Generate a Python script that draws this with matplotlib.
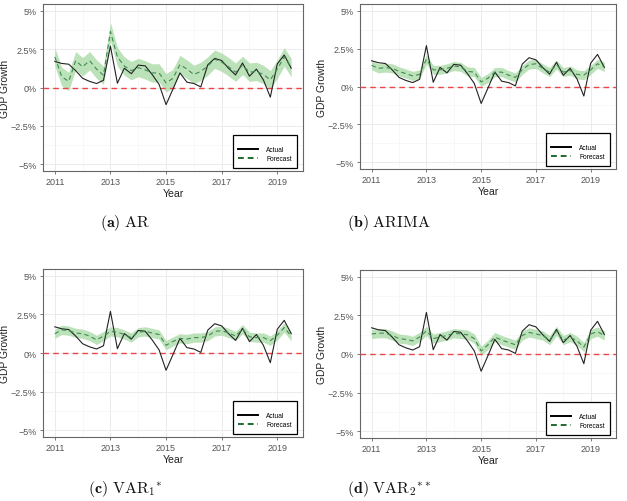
import numpy as np
import matplotlib
matplotlib.use("Agg")
import matplotlib.pyplot as plt
from matplotlib.lines import Line2D
from matplotlib.ticker import FuncFormatter, MultipleLocator

plt.rcParams['font.family'] = ['Liberation Sans', 'DejaVu Sans']
plt.rcParams['mathtext.fontset'] = 'cm'

# Quarterly observations 2011Q1 .. 2019Q3
quarters = [2011 + 0.25 * i for i in range(35)]

actual = [1.70, 1.57, 1.52, 1.10, 0.60, 0.40, 0.26, 0.47, 2.70, 0.28, 1.26, 0.90,
          1.46, 1.41, 0.85, 0.20, -1.12, -0.10, 0.95, 0.35, 0.26, 0.04, 1.48, 1.90,
          1.76, 1.25, 0.82, 1.60, 0.74, 1.20, 0.50, -0.63, 1.54, 2.12, 1.26]

forecast_ar = [2.00, 0.70, 0.40, 1.75, 1.35, 1.75, 1.20, 0.80, 3.65, 2.00, 1.40, 1.10,
               1.30, 1.15, 0.95, 0.95, 0.30, 0.60, 1.50, 1.20, 0.85, 1.05, 1.40, 1.85,
               1.65, 1.35, 1.00, 1.45, 1.00, 1.05, 0.85, 0.50, 1.20, 2.00, 1.30]

forecast_arima = [1.40, 1.20, 1.25, 1.20, 1.00, 0.85, 0.70, 0.80, 1.80, 1.10, 1.10, 1.20,
                  1.35, 1.30, 1.00, 0.95, 0.30, 0.55, 0.95, 0.95, 0.75, 0.60, 1.10, 1.45,
                  1.50, 1.20, 0.95, 1.45, 0.95, 1.05, 0.80, 0.75, 1.10, 1.50, 1.30]

forecast_var1 = [1.25, 1.50, 1.45, 1.30, 1.25, 1.10, 0.85, 1.10, 1.40, 1.35, 1.20, 1.00,
                 1.35, 1.40, 1.30, 1.20, 0.50, 0.75, 0.95, 0.90, 1.00, 1.00, 1.10, 1.40,
                 1.45, 1.30, 1.10, 1.55, 1.05, 1.00, 1.00, 0.80, 1.15, 1.65, 1.10]

forecast_var2 = [1.30, 1.35, 1.35, 1.20, 1.00, 0.95, 0.85, 1.10, 1.50, 1.00, 1.10, 1.20,
                 1.35, 1.30, 1.25, 1.00, 0.20, 0.60, 1.10, 0.90, 0.75, 0.60, 1.20, 1.40,
                 1.30, 1.20, 0.90, 1.50, 0.90, 1.10, 0.85, 0.45, 1.30, 1.45, 1.20]

band_halfwidth = {"AR": 0.60, "ARIMA": 0.30, "VAR1": 0.30, "VAR2": 0.30}

captions = [r"$\mathbf{(a)}\ \mathrm{AR}$",
            r"$\mathbf{(b)}\ \mathrm{ARIMA}$",
            r"$\mathbf{(c)}\ \mathrm{VAR}_1{}^{*}$",
            r"$\mathbf{(d)}\ \mathrm{VAR}_2{}^{**}$"]

x_ticks = [2011, 2013, 2015, 2017, 2019]
y_ticks = [-5, -2.5, 0, 2.5, 5]

W, H = 627, 502
fig = plt.figure(figsize=(W / 100, H / 100), dpi=100)
fig.patch.set_facecolor('white')

# axes boxes in pixels: left, right, top, bottom
boxes = [(43, 303, 5, 172), (360, 616, 5, 170), (43, 303, 270, 438), (360, 616, 271, 439)]
cap_pos = [(125, 223), (389, 223), (125, 489), (389, 489)]
models = [("AR", forecast_ar), ("ARIMA", forecast_arima), ("VAR1", forecast_var1), ("VAR2", forecast_var2)]

xq = np.array(quarters)
act = np.array(actual)

for (l, r, t, b), (name, fc), cap, (cx, cy) in zip(boxes, models, captions, cap_pos):
    ax = fig.add_axes([l / W, 1 - b / H, (r - l) / W, (b - t) / H])
    f = np.array(fc)
    hw = band_halfwidth[name]
    ax.fill_between(xq, f - hw, f + hw, color='#a6d9a3', alpha=0.75, lw=0, zorder=2)
    ax.axhline(0, color='#e8474a', lw=1.0, dashes=(4, 3), zorder=3)
    ax.plot(xq, act, color='#222222', lw=0.8, zorder=4)
    ax.plot(xq, f, color='#3f8a50', lw=0.8, dashes=(4, 3), zorder=5)

    ax.set_xlim(2010.575, 2019.925)
    ax.set_ylim(-5.45, 5.45)
    ax.set_xticks(x_ticks)
    ax.set_yticks(y_ticks)
    ax.xaxis.set_minor_locator(MultipleLocator(1))
    ax.yaxis.set_minor_locator(MultipleLocator(1.25))
    ax.yaxis.set_major_formatter(FuncFormatter(
        lambda v, p: ("0%" if v == 0 else (f"{v:g}%".replace("-", "\u2212")))))
    ax.grid(True, which='major', color='#ebebeb', lw=0.7, zorder=0)
    ax.grid(True, which='minor', color='#f3f3f3', lw=0.4, zorder=0)
    ax.set_axisbelow(True)
    ax.tick_params(which='major', length=2.5, width=0.5, color='#444444',
                   labelsize=6.5, labelcolor='#555555', pad=2)
    ax.tick_params(which='minor', length=0)
    for s in ax.spines.values():
        s.set_color('#666666')
        s.set_linewidth(0.8)
    ax.set_xlabel("Year", fontsize=7.6, color='#222222', labelpad=1)
    ax.set_ylabel("GDP Growth", fontsize=7.4, color='#222222', labelpad=0.5)

    handles = [Line2D([0], [0], color='black', lw=1.4),
               Line2D([0], [0], color='#1e6b2e', lw=1.4, dashes=(3, 2))]
    leg = ax.legend(handles, ["Actual", "Forecast"], loc='lower right',
                    bbox_to_anchor=(0.99, 0.0), fontsize=4.8, frameon=True,
                    fancybox=False, edgecolor='black', framealpha=1,
                    handlelength=3.0, handletextpad=1.2, borderpad=0.8,
                    labelspacing=0.3, title=" ", title_fontsize=3)
    leg.get_frame().set_linewidth(0.9)
    leg.set_zorder(10)

    fig.text(cx / W, 1 - cy / H, cap, ha='center', va='center', fontsize=11.5, color='#111111')

fig.savefig("out.png", dpi=100)
